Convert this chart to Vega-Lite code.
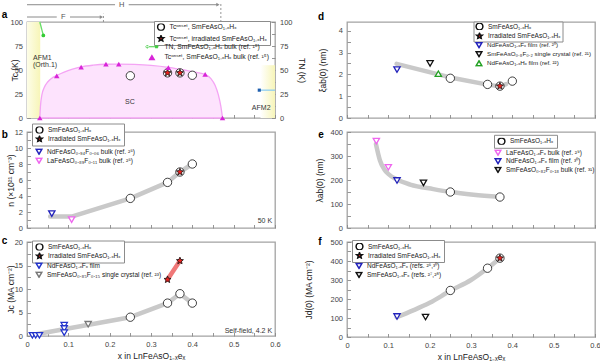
{
"$schema":"https://vega.github.io/schema/vega-lite/v6.json",
"padding":{"left":1,"top":0,"right":0,"bottom":0},
"config":{
 "font":"Liberation Sans",
 "view":{"stroke":"#a3a3a3","strokeWidth":1.3},
 "axis":{"grid":false,"domain":false,"tickSize":-3.5,"tickColor":"#8a8a8a","tickWidth":0.9,"labelFontSize":7.5,"labelColor":"#444444","labelPadding":8,"labelFlush":false,"labelOverlap":false,"titleFontSize":8.5,"titleFontWeight":"normal","titleColor":"#222222"},
 "legend":{"labelFontSize":6.5,"labelColor":"#222222","labelLimit":300,"rowPadding":2,"labelOffset":4,"clipHeight":7}
},
"datasets":{
 "a_afm1":[{"x":0,"x2":0.032,"y":0,"y2":100}],
 "a_afm2":[{"x":0.565,"x2":0.6,"y":0,"y2":55}],
 "a_dome":[{"x":0.031,"y":0},{"x":0.0325,"y":12},{"x":0.036,"y":24},{"x":0.042,"y":32},{"x":0.05,"y":37.5},{"x":0.06,"y":41.5},{"x":0.072,"y":44.3},{"x":0.09,"y":47.8},{"x":0.11,"y":50.8},{"x":0.131,"y":53.2},{"x":0.16,"y":55},{"x":0.19,"y":56},{"x":0.22,"y":56.2},{"x":0.26,"y":55.8},{"x":0.3,"y":54.8},{"x":0.342,"y":52.8},{"x":0.38,"y":50},{"x":0.41,"y":47.6},{"x":0.431,"y":45.3},{"x":0.445,"y":41},{"x":0.455,"y":34},{"x":0.463,"y":24},{"x":0.469,"y":12},{"x":0.473,"y":0}],
 "a_lbl":[{"x":0.0145,"y":63,"t":"AFM1"},{"x":0.0145,"y":55.5,"t":"(Orth.1)"},{"x":0.237,"y":17,"t":"SC"},{"x":0.544,"y":10,"t":"AFM2"}],
 "a_hfr":[{"x":0,"x2":0.213,"y":118},{"x":0.246,"x2":0.46,"y":118},{"x":0,"x2":0.072,"y":105.2},{"x":0.104,"x2":0.178,"y":105.2}],
 "a_hfh":[{"x":0.462,"y":118},{"x":0.18,"y":105.2}],
 "a_hft":[{"x":0.229,"y":118,"t":"H"},{"x":0.088,"y":105.2,"t":"F"}],
 "a_hfd":[{"x":0.469,"y":100,"y2":120.8},{"x":0.185,"y":100,"y2":108.6}],
 "a_sm":[{"x":0.25,"y":44,"s":"Tcᵒⁿˢᵉᵗ, SmFeAsO₁₋ₓHₓ"},{"x":0.34,"y":47,"s":"Tcᵒⁿˢᵉᵗ, SmFeAsO₁₋ₓHₓ"},{"x":0.37,"y":47,"s":"Tcᵒⁿˢᵉᵗ, SmFeAsO₁₋ₓHₓ"},{"x":0.4,"y":44.5,"s":"Tcᵒⁿˢᵉᵗ, SmFeAsO₁₋ₓHₓ"},{"x":0.34,"y":47,"s":"Tcᵒⁿˢᵉᵗ, irradiated SmFeAsO₁₋ₓHₓ"},{"x":0.37,"y":47,"s":"Tcᵒⁿˢᵉᵗ, irradiated SmFeAsO₁₋ₓHₓ"}],
 "a_tri":[{"x":0.031,"y":0,"src":"Tcᵒⁿˢᵉᵗ, SmFeAsO₁₋ₓHₓ bulk (ref. ¹⁵)"},{"x":0.072,"y":44,"src":"Tcᵒⁿˢᵉᵗ, SmFeAsO₁₋ₓHₓ bulk (ref. ¹⁵)"},{"x":0.131,"y":53,"src":"Tcᵒⁿˢᵉᵗ, SmFeAsO₁₋ₓHₓ bulk (ref. ¹⁵)"},{"x":0.191,"y":56,"src":"Tcᵒⁿˢᵉᵗ, SmFeAsO₁₋ₓHₓ bulk (ref. ¹⁵)"},{"x":0.222,"y":56,"src":"Tcᵒⁿˢᵉᵗ, SmFeAsO₁₋ₓHₓ bulk (ref. ¹⁵)"},{"x":0.342,"y":52.5,"src":"Tcᵒⁿˢᵉᵗ, SmFeAsO₁₋ₓHₓ bulk (ref. ¹⁵)"},{"x":0.431,"y":45.5,"src":"Tcᵒⁿˢᵉᵗ, SmFeAsO₁₋ₓHₓ bulk (ref. ¹⁵)"},{"x":0.473,"y":0,"src":"Tcᵒⁿˢᵉᵗ, SmFeAsO₁₋ₓHₓ bulk (ref. ¹⁵)"}],
 "a_tn1":[{"x":0.031,"y":100},{"x":0.0395,"y":86}],
 "a_tn2":[{"x":0.562,"y":29},{"x":0.6,"y":29}],
 "a_tnp1":[{"x":0.0395,"y":86}],
 "a_tnp2":[{"x":0.562,"y":29}],
 "b_fit":[{"x":0.056,"y":1.45},{"x":0.11,"y":1.45},{"x":0.25,"y":3.7},{"x":0.34,"y":5.7},{"x":0.37,"y":7.0},{"x":0.4,"y":8.0}],
 "b_sm":[{"x":0.25,"y":3.7,"s":"SmFeAsO₁₋ₓHₓ"},{"x":0.34,"y":5.7,"s":"SmFeAsO₁₋ₓHₓ"},{"x":0.37,"y":7.0,"s":"SmFeAsO₁₋ₓHₓ"},{"x":0.4,"y":8.0,"s":"SmFeAsO₁₋ₓHₓ"},{"x":0.37,"y":7.0,"s":"Irradiated SmFeAsO₁₋ₓHₓ"}],
 "b_ref":[{"x":0.06,"y":1.8,"r":"NdFeAsO₀.₉₄F₀.₀₆ bulk (ref. ²⁵)"},{"x":0.108,"y":1.05,"r":"LaFeAsO₀.₈₉F₀.₁₁ bulk (ref. ²⁵)"}],
 "b_lbl":[{"x":0.593,"y":0.9,"t":"50 K"}],
 "c_fit":[{"x":0.012,"y":0.2},{"x":0.25,"y":4},{"x":0.34,"y":7},{"x":0.37,"y":9},{"x":0.4,"y":7}],
 "c_red":[{"x":0.34,"y":12},{"x":0.37,"y":16}],
 "c_sm":[{"x":0.25,"y":4,"s":"SmFeAsO₁₋ₓHₓ"},{"x":0.34,"y":7,"s":"SmFeAsO₁₋ₓHₓ"},{"x":0.37,"y":9,"s":"SmFeAsO₁₋ₓHₓ"},{"x":0.4,"y":7,"s":"SmFeAsO₁₋ₓHₓ"},{"x":0.34,"y":12,"s":"Irradiated SmFeAsO₁₋ₓHₓ"},{"x":0.37,"y":16,"s":"Irradiated SmFeAsO₁₋ₓHₓ"}],
 "c_ref":[{"x":0.013,"y":0.15,"r":"NdFeAsO₁₋ₓFₓ film"},{"x":0.021,"y":0.15,"r":"NdFeAsO₁₋ₓFₓ film"},{"x":0.03,"y":0.15,"r":"NdFeAsO₁₋ₓFₓ film"},{"x":0.09,"y":2.3,"r":"NdFeAsO₁₋ₓFₓ film"},{"x":0.09,"y":1.6,"r":"NdFeAsO₁₋ₓFₓ film"},{"x":0.09,"y":0.7,"r":"NdFeAsO₁₋ₓFₓ film"},{"x":0.148,"y":2.5,"r":"SmFeAsO₀.₈₅F₀.₁₅ single crystal (ref. ²³)"}],
 "c_lbl":[{"x":0.593,"y":1.1,"t":"Self-field, 4.2 K"}],
 "d_fit":[{"x":0.12,"y":2.48},{"x":0.25,"y":1.86},{"x":0.34,"y":1.53},{"x":0.37,"y":1.45},{"x":0.385,"y":1.55}],
 "d_sm":[{"x":0.25,"y":1.82,"s":"SmFeAsO₁₋ₓHₓ"},{"x":0.34,"y":1.54,"s":"SmFeAsO₁₋ₓHₓ"},{"x":0.37,"y":1.46,"s":"SmFeAsO₁₋ₓHₓ"},{"x":0.4,"y":1.69,"s":"SmFeAsO₁₋ₓHₓ"},{"x":0.37,"y":1.46,"s":"Irradiated SmFeAsO₁₋ₓHₓ"}],
 "d_ref":[{"x":0.121,"y":2.22,"r":"NdFeAsO₁₋ₓFₓ film (ref. ²⁰)"},{"x":0.201,"y":2.5,"r":"SmFeAsO₀.₈F₀.₂ single crystal (ref. ²¹)"},{"x":0.221,"y":2.03,"r":"NdFeAsO₁₋ₓHₓ film (ref. ²²)"}],
 "e_fit":[{"x":0.07,"y":350},{"x":0.08,"y":280},{"x":0.09,"y":245},{"x":0.1,"y":225},{"x":0.121,"y":202},{"x":0.153,"y":181},{"x":0.209,"y":162},{"x":0.251,"y":150},{"x":0.306,"y":139},{"x":0.369,"y":130}],
 "e_sm":[{"x":0.25,"y":150,"s":"SmFeAsO₁₋ₓHₓ"},{"x":0.37,"y":129,"s":"SmFeAsO₁₋ₓHₓ"}],
 "e_ref":[{"x":0.071,"y":362,"r":"LaFeAsO₁₋ₓFₓ bulk (ref. ²⁹)"},{"x":0.1,"y":253,"r":"LaFeAsO₁₋ₓFₓ bulk (ref. ²⁹)"},{"x":0.121,"y":198,"r":"NdFeAsO₁₋ₓFₓ film (ref. ³⁰)"},{"x":0.185,"y":188,"r":"SmFeAsO₀.₈₂F₀.₁₈ bulk (ref. ³¹)"}],
 "f_fit":[{"x":0.12,"y":104},{"x":0.16,"y":140},{"x":0.2,"y":180},{"x":0.25,"y":243},{"x":0.3,"y":300},{"x":0.34,"y":362},{"x":0.37,"y":415}],
 "f_sm":[{"x":0.25,"y":245,"s":"SmFeAsO₁₋ₓHₓ"},{"x":0.34,"y":362,"s":"SmFeAsO₁₋ₓHₓ"},{"x":0.37,"y":415,"s":"SmFeAsO₁₋ₓHₓ"},{"x":0.37,"y":415,"s":"Irradiated SmFeAsO₁₋ₓHₓ"}],
 "f_ref":[{"x":0.121,"y":108,"r":"NdFeAsO₁₋ₓFₓ (refs. ²⁶,³⁰)"},{"x":0.19,"y":105,"r":"SmFeAsO₁₋ₓFₓ (refs. ²⁷,²⁸)"}]
},
"columns":2,
"spacing":{"row":14,"column":72},
"bounds":"flush",
"concat":[
 {
  "width":248,"height":96,
  "layer":[
   {
    "encoding":{
     "x":{"field":"x","type":"quantitative","scale":{"domain":[0,0.6],"nice":false},"axis":{"values":[0,0.05,0.1,0.15,0.2,0.25,0.3,0.35,0.4,0.45,0.5,0.55,0.6],"labels":false,"title":null}},
     "y":{"field":"y","type":"quantitative","scale":{"domain":[0,100],"nice":false},"axis":{"values":[0,12.5,25,37.5,50,62.5,75,87.5,100],"labelExpr":"datum.value % 25 == 0 ? datum.label : ''","title":"Tc (K)","titleX":-7.5}}
    },
    "layer":[
     {"data":{"name":"a_afm1"},"mark":{"type":"rect","color":{"gradient":"linear","stops":[{"offset":0,"color":"#fdfde8"},{"offset":1,"color":"#f7f5b8"}]}},"encoding":{"x2":{"field":"x2"},"y2":{"field":"y2"}}},
     {"data":{"name":"a_afm2"},"mark":{"type":"rect","color":{"gradient":"linear","stops":[{"offset":0,"color":"#ffffff"},{"offset":1,"color":"#f7f5b8"}]}},"encoding":{"x2":{"field":"x2"},"y2":{"field":"y2"}}},
     {"data":{"name":"a_dome"},"mark":{"type":"area","interpolate":"monotone","fill":"#fde3fd","stroke":"#f4a4f4","strokeWidth":1.3}},
     {"data":{"name":"a_lbl"},"mark":{"type":"text","align":"left","baseline":"middle","fontSize":7,"color":"#333333"},"encoding":{"text":{"field":"t"}}},
     {"data":{"name":"a_hfr"},"mark":{"type":"rule","color":"#8a8a8a","strokeWidth":1},"encoding":{"x2":{"field":"x2"}}},
     {"data":{"name":"a_hfh"},"mark":{"type":"point","shape":"triangle-right","filled":true,"color":"#8a8a8a","size":14,"opacity":1}},
     {"data":{"name":"a_hft"},"mark":{"type":"text","fontSize":7.5,"color":"#555555","baseline":"middle"},"encoding":{"text":{"field":"t"}}},
     {"data":{"name":"a_hfd"},"mark":{"type":"rule","color":"#8a8a8a","strokeDash":[2,2],"strokeWidth":0.9},"encoding":{"y2":{"field":"y2"}}},
     {"data":{"values":[{"t":"a","x":-0.0612,"y":107.6}]},"mark":{"type":"text","align":"left","baseline":"middle","fontSize":10,"fontWeight":"bold","color":"#000000"},"encoding":{"text":{"field":"t"}}},
     {"data":{"name":"a_sm"},"mark":{"type":"point","filled":true,"size":70,"stroke":"#111111","strokeWidth":0.8,"opacity":1},
      "encoding":{
       "shape":{"field":"s","type":"nominal","scale":{"domain":["Tcᵒⁿˢᵉᵗ, SmFeAsO₁₋ₓHₓ","Tcᵒⁿˢᵉᵗ, irradiated SmFeAsO₁₋ₓHₓ"],"range":["circle","M0,-0.88L0.233,-0.32L0.837,-0.272L0.377,0.122L0.517,0.712L0,0.396L-0.517,0.712L-0.377,0.122L-0.837,-0.272L-0.233,-0.32Z"]},"legend":{"title":null,"orient":"none","legendX":127,"legendY":-1,"strokeColor":"#8c8c8c","fillColor":"#ffffff","padding":2.5,"symbolSize":46,"labelFontSize":6.8,"rowPadding":3.5}},
       "color":{"field":"s","type":"nominal","scale":{"domain":["Tcᵒⁿˢᵉᵗ, SmFeAsO₁₋ₓHₓ","Tcᵒⁿˢᵉᵗ, irradiated SmFeAsO₁₋ₓHₓ"],"range":["#ffffff","#e8211d"]},"legend":{"title":null,"orient":"none","legendX":127,"legendY":-1,"strokeColor":"#8c8c8c","fillColor":"#ffffff","padding":2.5,"symbolSize":46,"labelFontSize":6.8,"rowPadding":3.5}}
      }}
    ]
   },
   {
    "encoding":{
     "x":{"field":"x","type":"quantitative","scale":{"domain":[0,0.6],"nice":false},"axis":{"values":[0,0.05,0.1,0.15,0.2,0.25,0.3,0.35,0.4,0.45,0.5,0.55,0.6],"labels":false,"title":null}},
     "y":{"field":"y","type":"quantitative","scale":{"domain":[0,100],"nice":false},"axis":{"orient":"right","values":[0,12.5,25,37.5,50,62.5,75,87.5,100],"labelExpr":"datum.value % 25 == 0 ? datum.label : ''","title":"TN (K)","titleX":21}}
    },
    "layer":[
     {"data":{"name":"a_tn1"},"mark":{"type":"line","color":"#66dd66","strokeWidth":1.3}},
     {"data":{"name":"a_tn2"},"mark":{"type":"line","color":"#8ecdf0","strokeWidth":1.3}},
     {"data":{"name":"a_tnp1"},"mark":{"type":"point","shape":"circle","filled":true,"color":"#33cc33","size":14,"opacity":1}},
     {"data":{"name":"a_tnp2"},"mark":{"type":"point","shape":"square","filled":true,"color":"#1f5fae","size":10,"opacity":1}},
     {"data":{"name":"a_tri"},"mark":{"type":"point","filled":true,"size":30,"opacity":1},
      "encoding":{
       "color":{"field":"src","type":"nominal","scale":{"domain":["TN, SmFeAsO₁₋ₓHₓ bulk (ref. ¹⁵)","Tcᵒⁿˢᵉᵗ, SmFeAsO₁₋ₓHₓ bulk (ref. ¹⁵)"],"range":["#44cc44","#d824d8"]},"legend":{"title":null,"orient":"none","legendX":114.4,"legendY":21.3,"padding":0,"symbolSize":49,"symbolOffset":6,"labelOffset":8,"labelFontSize":6.8,"rowPadding":2.4}},
       "shape":{"field":"src","type":"nominal","scale":{"domain":["TN, SmFeAsO₁₋ₓHₓ bulk (ref. ¹⁵)","Tcᵒⁿˢᵉᵗ, SmFeAsO₁₋ₓHₓ bulk (ref. ¹⁵)"],"range":["M-1.9,-0.15H1.9V0.15H-1.9Z M-1.75,0A0.45,0.45 0 1,0 -0.85,0A0.45,0.45 0 1,0 -1.75,0Z M0.9,-0.42H1.72V0.42H0.9Z","triangle-up"]},"legend":{"title":null,"orient":"none","legendX":114.4,"legendY":21.3,"padding":0,"symbolSize":49,"symbolOffset":6,"labelOffset":8,"labelFontSize":6.8,"rowPadding":2.4}}
      }}
    ]
   }
  ],
  "resolve":{"scale":{"y":"independent","color":"independent","shape":"independent"}}
 },
 {
  "width":248,"height":96,
  "encoding":{
   "x":{"field":"x","type":"quantitative","scale":{"domain":[0,0.6],"nice":false},"axis":{"values":[0,0.05,0.1,0.15,0.2,0.25,0.3,0.35,0.4,0.45,0.5,0.55,0.6],"labels":false,"title":null}},
   "y":{"field":"y","type":"quantitative","scale":{"domain":[0,4.4],"nice":false},"axis":{"values":[0,0.5,1,1.5,2,2.5,3,3.5,4],"format":"~g","labelExpr":"datum.value % 1 == 0 ? datum.label : ''","title":"ξab(0) (nm)","titleX":-19.5}}
  },
  "layer":[
   {"data":{"name":"d_fit"},"mark":{"type":"line","color":"#c9c9c9","strokeWidth":4.5,"strokeCap":"round","strokeJoin":"round"}},
   {"data":{"values":[{"t":"d","x":-0.0702,"y":4.63}]},"mark":{"type":"text","align":"left","baseline":"middle","fontSize":10,"fontWeight":"bold","color":"#000000"},"encoding":{"text":{"field":"t"}}},
   {"data":{"name":"d_sm"},"mark":{"type":"point","filled":true,"size":70,"stroke":"#111111","strokeWidth":0.8,"opacity":1},
    "encoding":{
     "shape":{"field":"s","type":"nominal","scale":{"domain":["SmFeAsO₁₋ₓHₓ","Irradiated SmFeAsO₁₋ₓHₓ"],"range":["circle","M0,-0.88L0.233,-0.32L0.837,-0.272L0.377,0.122L0.517,0.712L0,0.396L-0.517,0.712L-0.377,0.122L-0.837,-0.272L-0.233,-0.32Z"]},"legend":{"title":null,"orient":"none","legendX":126.5,"legendY":-0.5,"strokeColor":"#8c8c8c","fillColor":"#ffffff","padding":1.5,"rowPadding":2.5,"symbolSize":46}},
     "color":{"field":"s","type":"nominal","scale":{"domain":["SmFeAsO₁₋ₓHₓ","Irradiated SmFeAsO₁₋ₓHₓ"],"range":["#ffffff","#e8211d"]},"legend":{"title":null,"orient":"none","legendX":126.5,"legendY":-0.5,"strokeColor":"#8c8c8c","fillColor":"#ffffff","padding":1.5,"rowPadding":2.5,"symbolSize":46}}
    }},
   {"data":{"name":"d_ref"},"mark":{"type":"point","fill":"#ffffff","size":40,"strokeWidth":1.3,"opacity":1},
    "encoding":{
     "shape":{"field":"r","type":"nominal","scale":{"domain":["NdFeAsO₁₋ₓFₓ film (ref. ²⁰)","SmFeAsO₀.₈F₀.₂ single crystal (ref. ²¹)","NdFeAsO₁₋ₓHₓ film (ref. ²²)"],"range":["triangle-down","triangle-down","triangle-up"]},"legend":{"title":null,"orient":"none","legendX":125,"legendY":16.8,"padding":3,"symbolSize":32,"labelFontSize":6.2}},
     "stroke":{"field":"r","type":"nominal","scale":{"domain":["NdFeAsO₁₋ₓFₓ film (ref. ²⁰)","SmFeAsO₀.₈F₀.₂ single crystal (ref. ²¹)","NdFeAsO₁₋ₓHₓ film (ref. ²²)"],"range":["#2222bb","#111111","#22a022"]},"legend":{"title":null,"orient":"none","legendX":125,"legendY":16.8,"padding":3,"symbolSize":32,"labelFontSize":6.2}}
    }}
  ],
  "resolve":{"scale":{"shape":"independent","color":"independent","stroke":"independent"}}
 },
 {
  "width":248,"height":96,
  "encoding":{
   "x":{"field":"x","type":"quantitative","scale":{"domain":[0,0.6],"nice":false},"axis":{"values":[0,0.05,0.1,0.15,0.2,0.25,0.3,0.35,0.4,0.45,0.5,0.55,0.6],"labels":false,"title":null}},
   "y":{"field":"y","type":"quantitative","scale":{"domain":[0,12],"nice":false},"axis":{"values":[0,1,2,3,4,5,6,7,8,9,10,11,12],"labelExpr":"datum.value % 2 == 0 ? datum.label : ''","title":"n (×10²¹ cm⁻³)","titleX":-12}}
  },
  "layer":[
   {"data":{"name":"b_fit"},"mark":{"type":"line","color":"#c9c9c9","strokeWidth":4.5,"strokeCap":"round","strokeJoin":"round"}},
   {"data":{"values":[{"t":"b","x":-0.0612,"y":11.6}]},"mark":{"type":"text","align":"left","baseline":"middle","fontSize":10,"fontWeight":"bold","color":"#000000"},"encoding":{"text":{"field":"t"}}},
   {"data":{"name":"b_sm"},"mark":{"type":"point","filled":true,"size":70,"stroke":"#111111","strokeWidth":0.8,"opacity":1},
    "encoding":{
     "shape":{"field":"s","type":"nominal","scale":{"domain":["SmFeAsO₁₋ₓHₓ","Irradiated SmFeAsO₁₋ₓHₓ"],"range":["circle","M0,-0.88L0.233,-0.32L0.837,-0.272L0.377,0.122L0.517,0.712L0,0.396L-0.517,0.712L-0.377,0.122L-0.837,-0.272L-0.233,-0.32Z"]},"legend":{"title":null,"orient":"none","legendX":5,"legendY":-8.5,"strokeColor":"#8c8c8c","fillColor":"#ffffff","padding":3,"symbolSize":46}},
     "color":{"field":"s","type":"nominal","scale":{"domain":["SmFeAsO₁₋ₓHₓ","Irradiated SmFeAsO₁₋ₓHₓ"],"range":["#ffffff","#e8211d"]},"legend":{"title":null,"orient":"none","legendX":5,"legendY":-8.5,"strokeColor":"#8c8c8c","fillColor":"#ffffff","padding":3,"symbolSize":46}}
    }},
   {"data":{"name":"b_ref"},"mark":{"type":"point","fill":"#ffffff","size":40,"strokeWidth":1.3,"opacity":1},
    "encoding":{
     "shape":{"field":"r","type":"nominal","scale":{"domain":["NdFeAsO₀.₉₄F₀.₀₆ bulk (ref. ²⁵)","LaFeAsO₀.₈₉F₀.₁₁ bulk (ref. ²⁵)"],"range":["triangle-down","triangle-down"]},"legend":{"title":null,"orient":"none","legendX":5,"legendY":13.3,"padding":3,"symbolSize":32}},
     "stroke":{"field":"r","type":"nominal","scale":{"domain":["NdFeAsO₀.₉₄F₀.₀₆ bulk (ref. ²⁵)","LaFeAsO₀.₈₉F₀.₁₁ bulk (ref. ²⁵)"],"range":["#2222bb","#ee66ee"]},"legend":{"title":null,"orient":"none","legendX":5,"legendY":13.3,"padding":3,"symbolSize":32}}
    }},
   {"data":{"name":"b_lbl"},"mark":{"type":"text","align":"right","baseline":"middle","fontSize":7,"color":"#333333"},"encoding":{"text":{"field":"t"}}}
  ],
  "resolve":{"scale":{"shape":"independent","color":"independent","stroke":"independent"}}
 },
 {
  "width":248,"height":96,
  "encoding":{
   "x":{"field":"x","type":"quantitative","scale":{"domain":[0,0.6],"nice":false},"axis":{"values":[0,0.05,0.1,0.15,0.2,0.25,0.3,0.35,0.4,0.45,0.5,0.55,0.6],"labels":false,"title":null}},
   "y":{"field":"y","type":"quantitative","scale":{"domain":[0,400],"nice":false},"axis":{"values":[0,50,100,150,200,250,300,350,400],"labelExpr":"datum.value % 100 == 0 ? datum.label : ''","title":"λab(0) (nm)","titleX":-22.5}}
  },
  "layer":[
   {"data":{"name":"e_fit"},"mark":{"type":"line","interpolate":"monotone","color":"#c9c9c9","strokeWidth":4.5,"strokeCap":"round","strokeJoin":"round"}},
   {"data":{"values":[{"t":"e","x":-0.0694,"y":386.7}]},"mark":{"type":"text","align":"left","baseline":"middle","fontSize":10,"fontWeight":"bold","color":"#000000"},"encoding":{"text":{"field":"t"}}},
   {"data":{"name":"e_sm"},"mark":{"type":"point","fill":"#ffffff","size":70,"stroke":"#111111","strokeWidth":0.8,"opacity":1},
    "encoding":{
     "shape":{"field":"s","type":"nominal","scale":{"domain":["SmFeAsO₁₋ₓHₓ"],"range":["circle"]},"legend":{"title":null,"orient":"none","legendX":147,"legendY":2.8,"strokeColor":"#8c8c8c","fillColor":"#ffffff","padding":3,"symbolSize":46,"encode":{"symbols":{"fill":{"value":"#ffffff"},"stroke":{"value":"#111111"}}}}}
    }},
   {"data":{"name":"e_ref"},"mark":{"type":"point","fill":"#ffffff","size":40,"strokeWidth":1.3,"opacity":1},
    "encoding":{
     "shape":{"field":"r","type":"nominal","scale":{"domain":["LaFeAsO₁₋ₓFₓ bulk (ref. ²⁹)","NdFeAsO₁₋ₓFₓ film (ref. ³⁰)","SmFeAsO₀.₈₂F₀.₁₈ bulk (ref. ³¹)"],"range":["triangle-down","triangle-down","triangle-down"]},"legend":{"title":null,"orient":"none","legendX":144,"legendY":14.2,"padding":3,"symbolSize":32,"rowPadding":1.6}},
     "stroke":{"field":"r","type":"nominal","scale":{"domain":["LaFeAsO₁₋ₓFₓ bulk (ref. ²⁹)","NdFeAsO₁₋ₓFₓ film (ref. ³⁰)","SmFeAsO₀.₈₂F₀.₁₈ bulk (ref. ³¹)"],"range":["#ee66ee","#2222bb","#111111"]},"legend":{"title":null,"orient":"none","legendX":144,"legendY":14.2,"padding":3,"symbolSize":32,"rowPadding":1.6}}
    }}
  ],
  "resolve":{"scale":{"shape":"independent","color":"independent","stroke":"independent"}}
 },
 {
  "width":248,"height":94,
  "encoding":{
   "x":{"field":"x","type":"quantitative","scale":{"domain":[0,0.6],"nice":false},"axis":{"values":[0,0.05,0.1,0.15,0.2,0.25,0.3,0.35,0.4,0.45,0.5,0.55,0.6],"format":".1~f","labelExpr":"round(datum.value*100) % 10 == 0 ? datum.label : ''","title":"x in LnFeAsO₁₋ₓeₓ","titlePadding":3}},
   "y":{"field":"y","type":"quantitative","scale":{"domain":[0,20],"nice":false},"axis":{"values":[0,2.5,5,7.5,10,12.5,15,17.5,20],"labelExpr":"datum.value % 5 == 0 ? datum.label : ''","title":"Jc (MA cm⁻²)","titleX":-12}}
  },
  "layer":[
   {"data":{"name":"c_fit"},"mark":{"type":"line","color":"#c9c9c9","strokeWidth":4.5,"strokeCap":"round","strokeJoin":"round"}},
   {"data":{"name":"c_red"},"mark":{"type":"line","color":"#f07878","strokeWidth":4.5,"strokeCap":"round"}},
   {"data":{"values":[{"t":"c","x":-0.0612,"y":20.15}]},"mark":{"type":"text","align":"left","baseline":"middle","fontSize":10,"fontWeight":"bold","color":"#000000"},"encoding":{"text":{"field":"t"}}},
   {"data":{"name":"c_sm"},"mark":{"type":"point","filled":true,"size":70,"stroke":"#111111","strokeWidth":0.8,"opacity":1},
    "encoding":{
     "shape":{"field":"s","type":"nominal","scale":{"domain":["SmFeAsO₁₋ₓHₓ","Irradiated SmFeAsO₁₋ₓHₓ"],"range":["circle","M0,-0.88L0.233,-0.32L0.837,-0.272L0.377,0.122L0.517,0.712L0,0.396L-0.517,0.712L-0.377,0.122L-0.837,-0.272L-0.233,-0.32Z"]},"legend":{"title":null,"orient":"none","legendX":5,"legendY":-1.5,"strokeColor":"#8c8c8c","fillColor":"#ffffff","padding":3,"symbolSize":46}},
     "color":{"field":"s","type":"nominal","scale":{"domain":["SmFeAsO₁₋ₓHₓ","Irradiated SmFeAsO₁₋ₓHₓ"],"range":["#ffffff","#e8211d"]},"legend":{"title":null,"orient":"none","legendX":5,"legendY":-1.5,"strokeColor":"#8c8c8c","fillColor":"#ffffff","padding":3,"symbolSize":46}}
    }},
   {"data":{"name":"c_ref"},"mark":{"type":"point","fill":"#ffffff","size":40,"strokeWidth":1.3,"opacity":1},
    "encoding":{
     "shape":{"field":"r","type":"nominal","scale":{"domain":["NdFeAsO₁₋ₓFₓ film","SmFeAsO₀.₈₅F₀.₁₅ single crystal (ref. ²³)"],"range":["triangle-down","triangle-down"]},"legend":{"title":null,"orient":"none","legendX":5,"legendY":17.2,"padding":3,"symbolSize":32}},
     "stroke":{"field":"r","type":"nominal","scale":{"domain":["NdFeAsO₁₋ₓFₓ film","SmFeAsO₀.₈₅F₀.₁₅ single crystal (ref. ²³)"],"range":["#2233cc","#777777"]},"legend":{"title":null,"orient":"none","legendX":5,"legendY":17.2,"padding":3,"symbolSize":32}}
    }},
   {"data":{"name":"c_lbl"},"mark":{"type":"text","align":"right","baseline":"middle","fontSize":7,"color":"#333333"},"encoding":{"text":{"field":"t"}}}
  ],
  "resolve":{"scale":{"shape":"independent","color":"independent","stroke":"independent"}}
 },
 {
  "width":248,"height":95,
  "encoding":{
   "x":{"field":"x","type":"quantitative","scale":{"domain":[0,0.6],"nice":false},"axis":{"values":[0,0.05,0.1,0.15,0.2,0.25,0.3,0.35,0.4,0.45,0.5,0.55,0.6],"format":".1~f","labelExpr":"round(datum.value*100) % 10 == 0 ? datum.label : ''","title":"x in LnFeAsO₁₋ₓeₓ","titlePadding":3}},
   "y":{"field":"y","type":"quantitative","scale":{"domain":[0,500],"nice":false},"axis":{"values":[0,50,100,150,200,250,300,350,400,450,500],"labelExpr":"datum.value % 100 == 0 ? datum.label : ''","title":"Jd(0) (MA cm⁻²)","titleX":-33.5}}
  },
  "layer":[
   {"data":{"name":"f_fit"},"mark":{"type":"line","interpolate":"monotone","color":"#c9c9c9","strokeWidth":4.5,"strokeCap":"round","strokeJoin":"round"}},
   {"data":{"values":[{"t":"f","x":-0.0694,"y":502.6}]},"mark":{"type":"text","align":"left","baseline":"middle","fontSize":10,"fontWeight":"bold","color":"#000000"},"encoding":{"text":{"field":"t"}}},
   {"data":{"name":"f_sm"},"mark":{"type":"point","filled":true,"size":70,"stroke":"#111111","strokeWidth":0.8,"opacity":1},
    "encoding":{
     "shape":{"field":"s","type":"nominal","scale":{"domain":["SmFeAsO₁₋ₓHₓ","Irradiated SmFeAsO₁₋ₓHₓ"],"range":["circle","M0,-0.88L0.233,-0.32L0.837,-0.272L0.377,0.122L0.517,0.712L0,0.396L-0.517,0.712L-0.377,0.122L-0.837,-0.272L-0.233,-0.32Z"]},"legend":{"title":null,"orient":"none","legendX":5,"legendY":-2,"strokeColor":"#8c8c8c","fillColor":"#ffffff","padding":3,"symbolSize":46}},
     "color":{"field":"s","type":"nominal","scale":{"domain":["SmFeAsO₁₋ₓHₓ","Irradiated SmFeAsO₁₋ₓHₓ"],"range":["#ffffff","#e8211d"]},"legend":{"title":null,"orient":"none","legendX":5,"legendY":-2,"strokeColor":"#8c8c8c","fillColor":"#ffffff","padding":3,"symbolSize":46}}
    }},
   {"data":{"name":"f_ref"},"mark":{"type":"point","fill":"#ffffff","size":40,"strokeWidth":1.3,"opacity":1},
    "encoding":{
     "shape":{"field":"r","type":"nominal","scale":{"domain":["NdFeAsO₁₋ₓFₓ (refs. ²⁶,³⁰)","SmFeAsO₁₋ₓFₓ (refs. ²⁷,²⁸)"],"range":["triangle-down","triangle-down"]},"legend":{"title":null,"orient":"none","legendX":5,"legendY":17.5,"padding":3,"symbolSize":32}},
     "stroke":{"field":"r","type":"nominal","scale":{"domain":["NdFeAsO₁₋ₓFₓ (refs. ²⁶,³⁰)","SmFeAsO₁₋ₓFₓ (refs. ²⁷,²⁸)"],"range":["#2222bb","#111111"]},"legend":{"title":null,"orient":"none","legendX":5,"legendY":17.5,"padding":3,"symbolSize":32}}
    }}
  ],
  "resolve":{"scale":{"shape":"independent","color":"independent","stroke":"independent"}}
 }
]
}
